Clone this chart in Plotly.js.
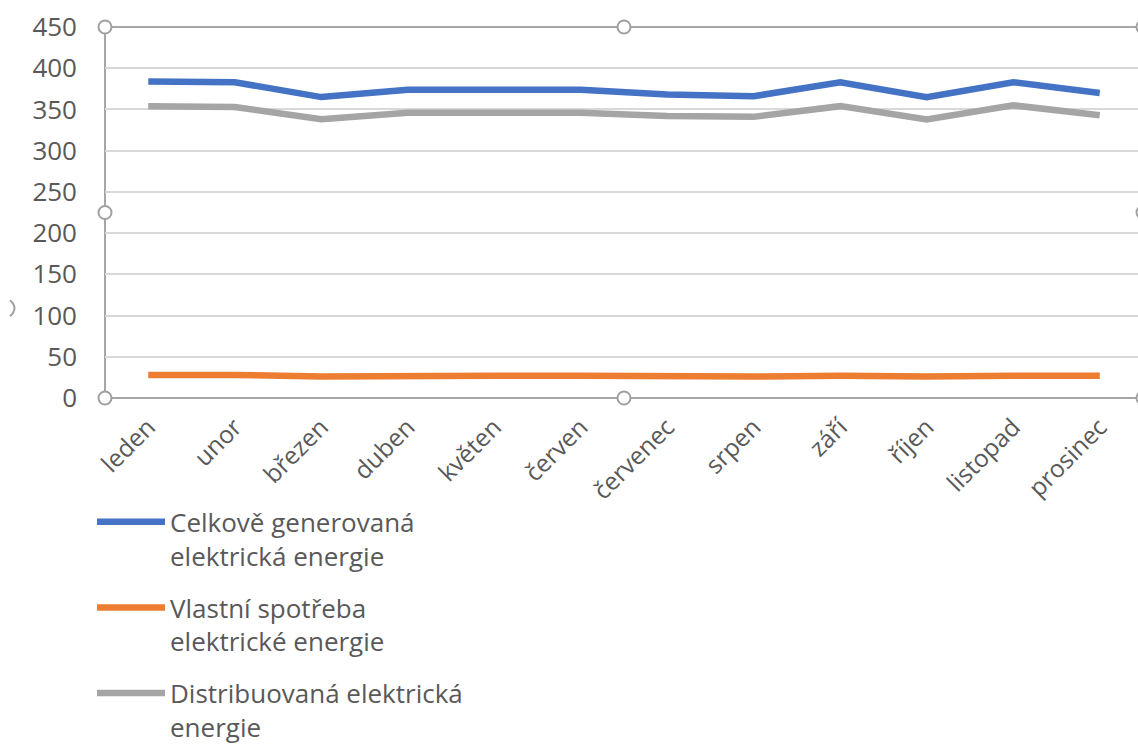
<!DOCTYPE html>
<html>
<head>
<meta charset="utf-8">
<script src="https://cdn.plot.ly/plotly-3.0.1.min.js"></script>
<style>
html,body{margin:0;padding:0;overflow:hidden;background:#fff;}
#chart{width:1160px;height:751px;}
</style>
</head>
<body>
<div id="chart"></div>
<script>
const months = ["leden","unor","březen","duben","květen","červen","červenec","srpen","září","říjen","listopad","prosinec"];
const generated = [384, 383, 365, 374, 374, 374, 368, 366, 383, 365, 383, 370];
const ownUse = [28, 28, 26, 27, 27, 27, 26, 26, 27, 26, 27, 27];
const distributed = [354, 353, 338, 346, 346, 346, 342, 341, 354, 338, 355, 343];
const seriesNames = ["Celkově generovaná<br>elektrická energie","Vlastní spotřeba<br>elektrické energie","Distribuovaná elektrická<br>energie"];
const yTicks = [0,50,100,150,200,250,300,350,400,450];

const FONT = "Open Sans, Noto Sans, sans-serif";
const mk = (y, name, color, grp) => ({
  x: months, y: y, name: name, type: "scatter", mode: "lines",
  line: {color: color, width: 6.5}, legendgroup: grp, hoverinfo: "x+y"
});
const data = [
  mk(generated, seriesNames[0], "#4472C4", "a"),
  mk(ownUse, seriesNames[1], "#ED7D31", "b"),
  mk(distributed, seriesNames[2], "#A5A5A5", "c")
];

const L = 105, T = 27, B = 397.7, W = 1160, R = 1143;
const handle = (xp, yp) => ({
  type: "circle", xref: "paper", yref: "paper", xsizemode: "pixel", ysizemode: "pixel",
  xanchor: xp, yanchor: yp, x0: -6.5, x1: 6.5, y0: -6.5, y1: 6.5,
  line: {color: "#A0A0A0", width: 2}, fillcolor: "#ffffff", layer: "above"
});
const pw = R - L, ph = B - T;
const px = v => (v - L) / pw, py = v => (B - v) / ph;
const shapes = [
  {type: "rect", xref: "paper", yref: "paper", x0: 0, x1: 1, y0: 0, y1: 1,
   line: {color: "#A6A6A6", width: 2}, layer: "below"},
  handle(0,0), handle(0.5,0), handle(1,0),
  handle(0,0.5), handle(1,0.5),
  handle(0,1), handle(0.5,1), handle(1,1),
  {type: "path", xref: "paper", yref: "paper",
   path: `M ${px(10)} ${py(300)} Q ${px(19)} ${py(308)} ${px(10)} ${py(316)}`,
   line: {color: "#A0A0A0", width: 2}}
];

const layout = {
  width: W, height: 751,
  margin: {l: L, r: W - R, t: T, b: 751 - B, pad: 0, autoexpand: false},
  paper_bgcolor: "#fff", plot_bgcolor: "#fff",
  font: {family: FONT, color: "#595959"},
  showlegend: true,
  legend: {
    x: px(92), y: py(498), xanchor: "left", yanchor: "top",
    orientation: "v", valign: "top", itemwidth: 68,
    font: {size: 26, color: "#595959", family: FONT},
    tracegroupgap: 15, bgcolor: "rgba(0,0,0,0)"
  },
  xaxis: {
    type: "category", range: [-0.5, 11.5], showgrid: false, zeroline: false,
    showline: false, ticks: "", tickangle: -45, automargin: false,
    tickfont: {size: 24.5, color: "#595959", family: FONT},
    ticklabelstandoff: 9
  },
  yaxis: {
    range: [0, 450], tickvals: yTicks, ticktext: yTicks.map(String),
    showgrid: true, gridcolor: "#D9D9D9", gridwidth: 2, zeroline: false,
    showline: false, ticks: "", automargin: false,
    tickfont: {size: 26, color: "#595959", family: FONT},
    ticklabelstandoff: 27
  },
  shapes: shapes
};
Plotly.newPlot("chart", data, layout, {displayModeBar: false, staticPlot: true});
</script>
</body>
</html>
